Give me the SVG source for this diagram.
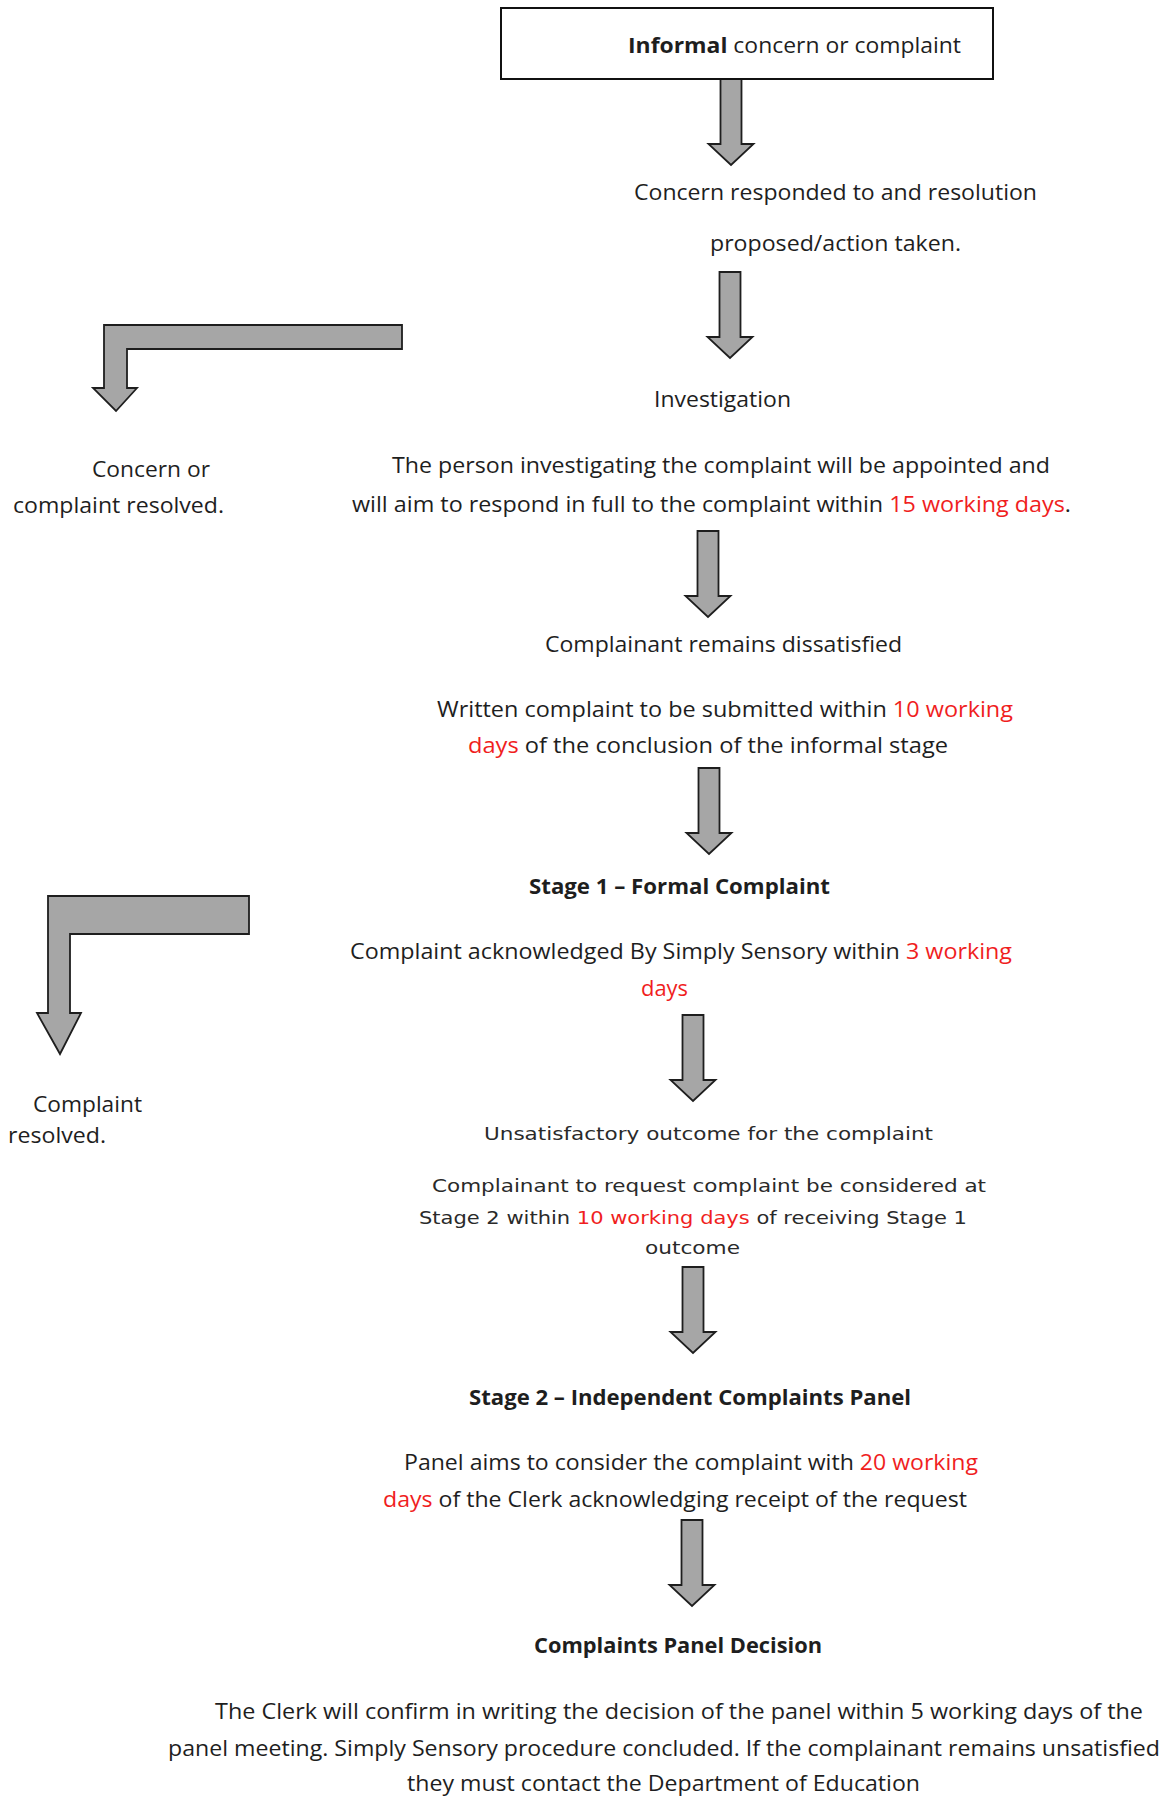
<svg xmlns="http://www.w3.org/2000/svg" xmlns:xlink="http://www.w3.org/1999/xlink" width="1167" height="1798" viewBox="0 0 1167 1798">
<style>
.t{font-family:"Open Sans","Liberation Sans",sans-serif;font-size:21px;fill:#1e1e1e}
.b{font-weight:bold}
.v{font-family:"DejaVu Sans","Liberation Sans",sans-serif;font-size:18px;fill:#2a2a2a}
.r{fill:#f01e1e}
.arrow{fill:#a6a6a6;stroke:#1e1e1e;stroke-width:1.8;stroke-linejoin:miter}
.box{fill:#ffffff;stroke:#111111;stroke-width:2}
</style>
<defs>
<path id="dn" d="M-10.5,0 H10.5 V65 H22.5 L0,86 L-22.5,65 H-10.5 Z"/>
</defs>
<rect width="1167" height="1798" fill="#ffffff"/>

<g id="connectors">
<use href="#dn" xlink:href="#dn" class="arrow" x="731" y="79"/>
<use href="#dn" xlink:href="#dn" class="arrow" x="730" y="272"/>
<use href="#dn" xlink:href="#dn" class="arrow" x="708" y="531"/>
<use href="#dn" xlink:href="#dn" class="arrow" x="709" y="768"/>
<use href="#dn" xlink:href="#dn" class="arrow" x="693" y="1015"/>
<use href="#dn" xlink:href="#dn" class="arrow" x="693" y="1267"/>
<use href="#dn" xlink:href="#dn" class="arrow" x="692" y="1520"/>
<polygon class="arrow" points="104,325 402,325 402,349 127,349 127,388 137,388 116,411 93,388 104,388"/>
<polygon class="arrow" points="48,896 249,896 249,934 70,934 70,1013 81,1013 60,1054 37,1013 48,1013"/>
</g>

<g id="informal">
<rect class="box" x="501" y="8" width="492" height="71"/>
<text class="t" x="628" y="53" textLength="333" lengthAdjust="spacingAndGlyphs"><tspan class="b">Informal</tspan> concern or complaint</text>
</g>

<g id="responded">
<text class="t" x="634" y="200" textLength="403" lengthAdjust="spacingAndGlyphs">Concern responded to and resolution</text>
<text class="t" x="710" y="251" textLength="251" lengthAdjust="spacingAndGlyphs">proposed/action taken.</text>
</g>

<g id="resolved-informal">
<text class="t" x="92" y="477" textLength="118" lengthAdjust="spacingAndGlyphs">Concern or</text>
<text class="t" x="13" y="513" textLength="211" lengthAdjust="spacingAndGlyphs">complaint resolved.</text>
</g>

<g id="investigation">
<text class="t" x="654" y="407" textLength="137" lengthAdjust="spacingAndGlyphs">Investigation</text>
<text class="t" x="392" y="473" textLength="658" lengthAdjust="spacingAndGlyphs">The person investigating the complaint will be appointed and</text>
<text class="t" x="352" y="512" textLength="719" lengthAdjust="spacingAndGlyphs">will aim to respond in full to the complaint within <tspan class="r">15 working days</tspan>.</text>
</g>

<g id="dissatisfied">
<text class="t" x="545" y="652" textLength="357" lengthAdjust="spacingAndGlyphs">Complainant remains dissatisfied</text>
<text class="t" x="437" y="717" textLength="576" lengthAdjust="spacingAndGlyphs">Written complaint to be submitted within <tspan class="r">10 working</tspan></text>
<text class="t" x="468" y="753" textLength="480" lengthAdjust="spacingAndGlyphs"><tspan class="r">days</tspan> of the conclusion of the informal stage</text>
</g>

<g id="stage1">
<text class="t b" x="529" y="894" textLength="301" lengthAdjust="spacingAndGlyphs">Stage 1 – Formal Complaint</text>
<text class="t" x="350" y="959" textLength="662" lengthAdjust="spacingAndGlyphs">Complaint acknowledged By Simply Sensory within <tspan class="r">3 working</tspan></text>
<text class="t r" x="641" y="996" textLength="47" lengthAdjust="spacingAndGlyphs">days</text>
</g>

<g id="resolved-stage1">
<text class="t" x="33" y="1112" textLength="109" lengthAdjust="spacingAndGlyphs">Complaint</text>
<text class="t" x="8" y="1143" textLength="98" lengthAdjust="spacingAndGlyphs">resolved.</text>
</g>

<g id="unsatisfactory">
<text class="v" x="484" y="1140" textLength="449" lengthAdjust="spacingAndGlyphs">Unsatisfactory outcome for the complaint</text>
<text class="v" x="432" y="1192" textLength="554" lengthAdjust="spacingAndGlyphs">Complainant to request complaint be considered at</text>
<text class="v" x="419" y="1224" textLength="548" lengthAdjust="spacingAndGlyphs">Stage 2 within <tspan class="r">10 working days</tspan> of receiving Stage 1</text>
<text class="v" x="645" y="1254" textLength="95" lengthAdjust="spacingAndGlyphs">outcome</text>
</g>

<g id="stage2">
<text class="t b" x="469" y="1405" textLength="442" lengthAdjust="spacingAndGlyphs">Stage 2 – Independent Complaints Panel</text>
<text class="t" x="404" y="1470" textLength="574" lengthAdjust="spacingAndGlyphs">Panel aims to consider the complaint with <tspan class="r">20 working</tspan></text>
<text class="t" x="383" y="1507" textLength="584" lengthAdjust="spacingAndGlyphs"><tspan class="r">days</tspan> of the Clerk acknowledging receipt of the request</text>
</g>

<g id="decision">
<text class="t b" x="534" y="1653" textLength="288" lengthAdjust="spacingAndGlyphs">Complaints Panel Decision</text>
<text class="t" x="215" y="1719" textLength="928" lengthAdjust="spacingAndGlyphs">The Clerk will confirm in writing the decision of the panel within 5 working days of the</text>
<text class="t" x="168" y="1756" textLength="992" lengthAdjust="spacingAndGlyphs">panel meeting. Simply Sensory procedure concluded. If the complainant remains unsatisfied</text>
<text class="t" x="407" y="1791" textLength="513" lengthAdjust="spacingAndGlyphs">they must contact the Department of Education</text>
</g>
</svg>
